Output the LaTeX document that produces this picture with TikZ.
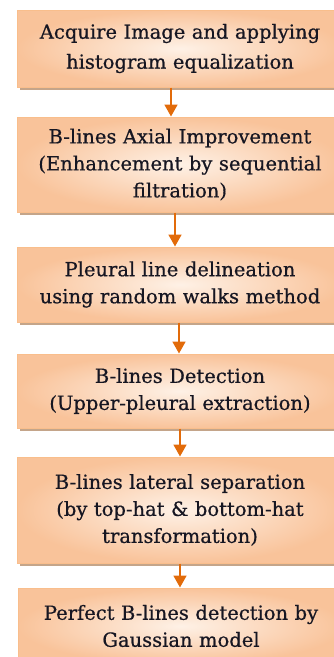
\documentclass[tikz,border=0pt]{standalone}
\usepackage{fontspec}
\setmainfont{DejaVu Serif}[BoldFont=DejaVu Serif, BoldFeatures={FakeBold=0.6}]
\usetikzlibrary{arrows.meta,shadows}
\definecolor{boxedge}{HTML}{F9BE8C}
\definecolor{boxout}{HTML}{F9C39A}
\definecolor{boxin}{HTML}{FEF1E6}
\definecolor{arrowor}{HTML}{E26B0A}
\definecolor{shadowc}{HTML}{C4A58A}
\definecolor{txt}{HTML}{161622}
\tikzset{
  stepbox/.style={draw=boxedge, line width=1pt, inner color=boxin, outer color=boxout,
    minimum width=326pt, text width=316pt, align=center, text=txt,
    font=\fontsize{19.5}{27}\selectfont\bfseries,
    drop shadow={shadow xshift=3pt,shadow yshift=-3pt,fill=shadowc,opacity=1}},
  flow/.style={->, draw=arrowor, line width=1.8pt}
}
\begin{document}
\begin{tikzpicture}[>={Triangle[width=13pt,length=12pt]}, x=1pt, y=1pt]
\useasboundingbox (0,0) rectangle (334,-657);
    \node[stepbox, minimum height=77pt] (acq) at (180,-48.5) {Acquire Image and applying\\[3pt]histogram equalization};
    \node[stepbox, minimum height=95pt] (axial) at (180,-164.5) {B-lines Axial Improvement\\(Enhancement by sequential\\filtration)};
    \node[stepbox, minimum height=75pt] (pleura) at (180,-284.5) {Pleural line delineation\\using random walks method};
    \node[stepbox, minimum height=74pt] (detect) at (180,-391) {B-lines Detection\\(Upper-pleural extraction)};
    \node[stepbox, minimum height=106pt] (lateral) at (180,-510) {B-lines lateral separation\\(by top-hat \& bottom-hat\\transformation)};
    \node[stepbox, minimum height=76pt] (gauss) at (181,-626) {Perfect B-lines detection by\\Gaussian model};
    % arrows between the steps
    \draw[flow] ([xshift=-9pt]acq.south) -- ([xshift=-9pt]axial.north);
    \draw[flow] ([xshift=-5pt]axial.south) -- ([xshift=-5pt]pleura.north);
    \draw[flow] ([xshift=-1pt]pleura.south) -- ([xshift=-1pt]detect.north);
    \draw[flow] (detect.south) -- (detect.south |- lateral.north);
    \draw[flow] (lateral.south) -- (lateral.south |- gauss.north);
\end{tikzpicture}
\end{document}
